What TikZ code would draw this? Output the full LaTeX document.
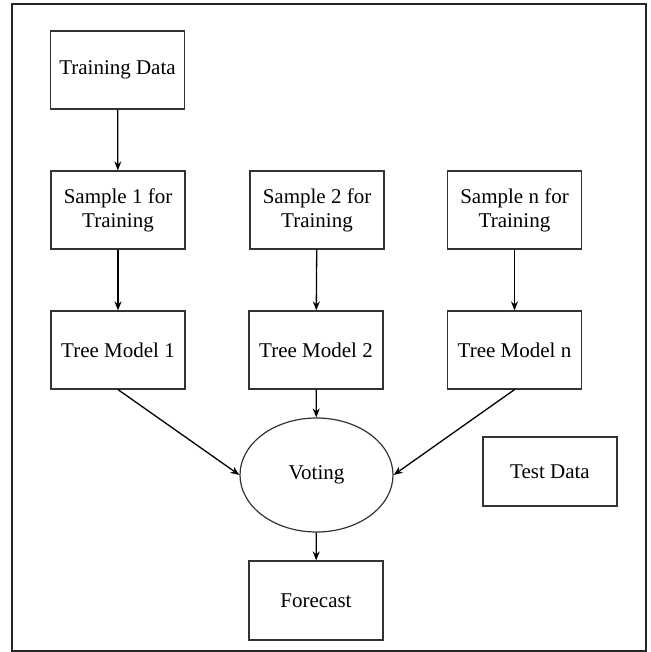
\documentclass[tikz,border=0pt]{standalone}
\usepackage{fontspec}
\setmainfont{Liberation Serif}
\usetikzlibrary{arrows.meta,shapes.geometric}

\begin{document}
\begin{tikzpicture}[x=1pt, y=-1pt,
    box/.style={draw=black!80, line width=1.2pt, rectangle, minimum width=134pt, minimum height=78pt, align=center, inner sep=0pt, font=\fontsize{21}{24}\selectfont},
    link/.style={draw, line width=1.3pt, -{Stealth[length=9pt, width=7pt]}}]
  \useasboundingbox (0,0) rectangle (650,652);
  \draw [line width=1.5pt, black!85] (12,4) rectangle (646,651);

  % training side
  \node [box] (train) at (117.5,70) {Training Data};
  \node [box] (samp1) at (118,210) {Sample 1 for\\Training};
  \node [box] (samp2) at (317,210) {Sample 2 for\\Training};
  \node [box] (sampn) at (514.5,210) {Sample n for\\Training};

  % models
  \node [box] (tree1) at (118,350) {Tree Model 1};
  \node [box] (tree2) at (316,350) {Tree Model 2};
  \node [box] (treen) at (514.5,350) {Tree Model n};

  \node [draw=black!80, line width=1.2pt, ellipse, minimum width=153pt, minimum height=114pt, inner sep=0pt, font=\fontsize{21}{24}\selectfont] (vote) at (316.5,475) {Voting};
  \node [box, minimum height=69pt] (test) at (550,471.5) {Test Data};
  \node [box, minimum height=79pt] (fore) at (316,600.5) {Forecast};

  \draw [link] (train) -- (samp1);
  \draw [link] (samp1) -- (tree1);
  \draw [link] (samp2) -- (tree2);
  \draw [link] (sampn) -- (treen);
  \draw [link] (tree1.south) -- (vote.west);
  \draw [link] (tree2) -- (vote);
  \draw [link] (treen.south) -- (vote.east);
  \draw [link] (vote) -- (fore);
\end{tikzpicture}
\end{document}
